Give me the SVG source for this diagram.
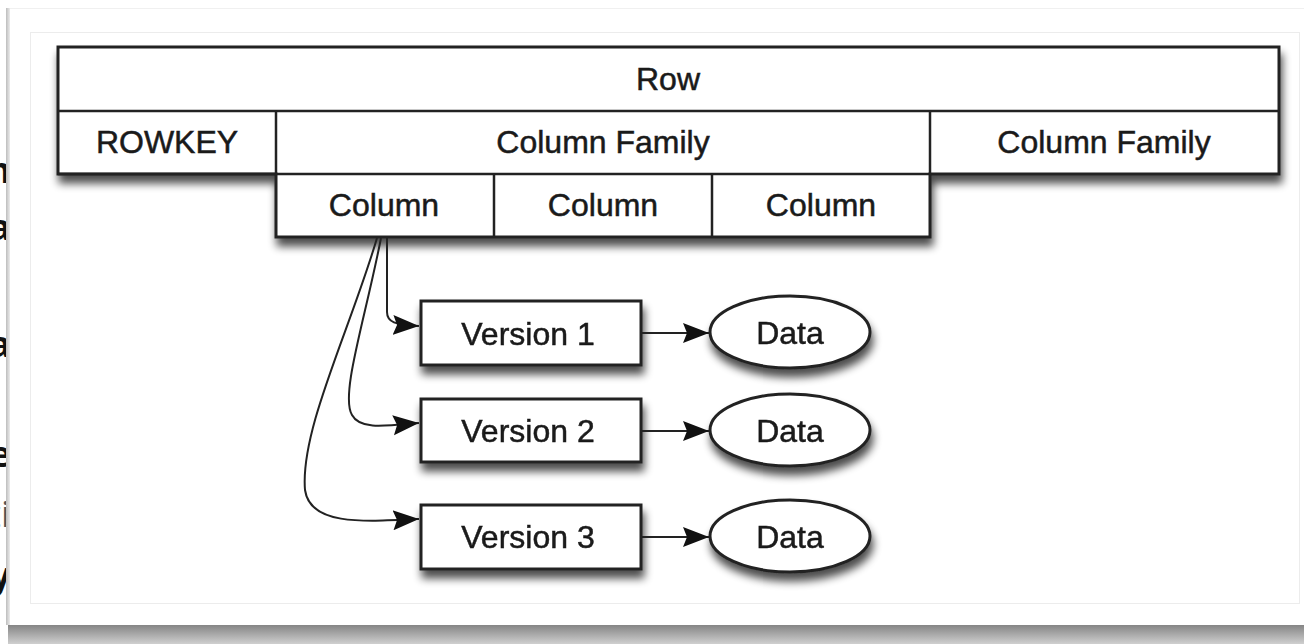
<svg xmlns="http://www.w3.org/2000/svg" width="1304" height="644" viewBox="0 0 1304 644">
<style>
.t{font-family:"Liberation Sans",Arial,sans-serif;font-size:32px;fill:#1a1a1a;stroke:#1a1a1a;stroke-width:0.5;text-anchor:middle}
.f{font-family:"Open Sans","Liberation Sans",sans-serif;font-size:36px;font-weight:bold;fill:#111;text-anchor:end}
.box{fill:#fff;stroke:#222;stroke-width:3}
.ln{fill:none;stroke:#222;stroke-width:2.5}
.conn{fill:none;stroke:#222;stroke-width:2}
</style>
<defs>
<filter id="sh" x="-10%" y="-20%" width="120%" height="170%">
<feGaussianBlur in="SourceAlpha" stdDeviation="4"/>
<feOffset dx="2" dy="8" result="b"/>
<feComponentTransfer><feFuncA type="linear" slope="0.7"/></feComponentTransfer>
<feMerge><feMergeNode/><feMergeNode in="SourceGraphic"/></feMerge>
</filter>
<marker id="ah" markerWidth="28" markerHeight="22" refX="26" refY="11" orient="auto" markerUnits="userSpaceOnUse">
<path d="M0,1 L26,11 L0,21 L4,11 Z" fill="#111"/>
</marker>
<linearGradient id="bot" x1="0" y1="0" x2="0" y2="1">
<stop offset="0" stop-color="#858585"/>
<stop offset="1" stop-color="#cfcfcf"/>
</linearGradient>
<linearGradient id="lft" x1="0" y1="0" x2="1" y2="0">
<stop offset="0" stop-color="#bdbdbd"/>
<stop offset="1" stop-color="#ececec"/>
</linearGradient>
<clipPath id="lc"><rect x="0" y="0" width="9" height="644"/></clipPath>
</defs>
<rect width="1304" height="644" fill="#fff"/>
<!-- page fragments at left -->
<g clip-path="url(#lc)">
<text class="f" x="11" y="183">m</text>
<text class="f" x="11" y="240">a</text>
<text class="f" x="11" y="357">a</text>
<text class="f" x="11" y="467">e</text>
<text class="f" x="10" y="527" style="fill:#555;font-weight:normal">ti</text>
<text class="f" x="11" y="588">y</text>
</g>
<!-- card -->
<rect x="6" y="8" width="4" height="617" fill="url(#lft)"/>
<rect x="10" y="8" width="1294" height="617" fill="#fff"/>
<line x1="10" y1="8.5" x2="1304" y2="8.5" stroke="#f0f0f0"/>
<rect x="8" y="625" width="1296" height="19" fill="url(#bot)"/>
<rect x="30.5" y="32.5" width="1269" height="571" fill="#fff" stroke="#ececec"/>
<!-- table -->
<g id="table" filter="url(#sh)">
<path class="box" d="M58,47 H1279 V174 H930 V237 H276 V174 H58 Z"/>
</g>
<g id="row"><line class="ln" x1="58" y1="111" x2="1279" y2="111"/><text class="t" x="668" y="90">Row</text></g>
<g id="rowkey"><line class="ln" x1="58" y1="174" x2="276" y2="174"/><line class="ln" x1="276" y1="111" x2="276" y2="174"/><text class="t" x="167" y="153">ROWKEY</text></g>
<g id="cf1"><line class="ln" x1="276" y1="174" x2="930" y2="174"/><text class="t" x="603" y="153">Column Family</text></g>
<g id="cf2"><line class="ln" x1="930" y1="111" x2="930" y2="174"/><text class="t" x="1104" y="153">Column Family</text></g>
<g id="col1"><text class="t" x="384" y="216">Column</text></g>
<g id="col2"><line class="ln" x1="494" y1="174" x2="494" y2="237"/><text class="t" x="603" y="216">Column</text></g>
<g id="col3"><line class="ln" x1="712" y1="174" x2="712" y2="237"/><text class="t" x="821" y="216">Column</text></g>
<!-- versions -->
<g id="v1" filter="url(#sh)"><rect class="box" x="421" y="301" width="220" height="64"/><text class="t" x="528" y="345">Version 1</text></g>
<g id="v2" filter="url(#sh)"><rect class="box" x="421" y="399" width="220" height="63"/><text class="t" x="528" y="442">Version 2</text></g>
<g id="v3" filter="url(#sh)"><rect class="box" x="421" y="505" width="220" height="64"/><text class="t" x="528" y="548">Version 3</text></g>
<g id="d1" filter="url(#sh)"><ellipse class="box" cx="790" cy="332" rx="80" ry="36"/><text class="t" x="790" y="344">Data</text></g>
<g id="d2" filter="url(#sh)"><ellipse class="box" cx="790" cy="430" rx="80" ry="36"/><text class="t" x="790" y="442">Data</text></g>
<g id="d3" filter="url(#sh)"><ellipse class="box" cx="790" cy="536" rx="80" ry="36"/><text class="t" x="790" y="548">Data</text></g>
<!-- connectors -->
<g id="connectors">
<path class="conn" marker-end="url(#ah)" d="M387,238 L387,312 C387,322 395,325 419,326"/>
<path class="conn" marker-end="url(#ah)" d="M381,238 C365,320 340,395 352,415 C360,430 385,426 419,423"/>
<path class="conn" marker-end="url(#ah)" d="M377,238 C350,330 300,430 305,490 C310,525 360,522 419,519"/>
<path class="conn" marker-end="url(#ah)" d="M641,333 L709,333"/>
<path class="conn" marker-end="url(#ah)" d="M641,431 L709,431"/>
<path class="conn" marker-end="url(#ah)" d="M641,537 L709,537"/>
</g>
</svg>
